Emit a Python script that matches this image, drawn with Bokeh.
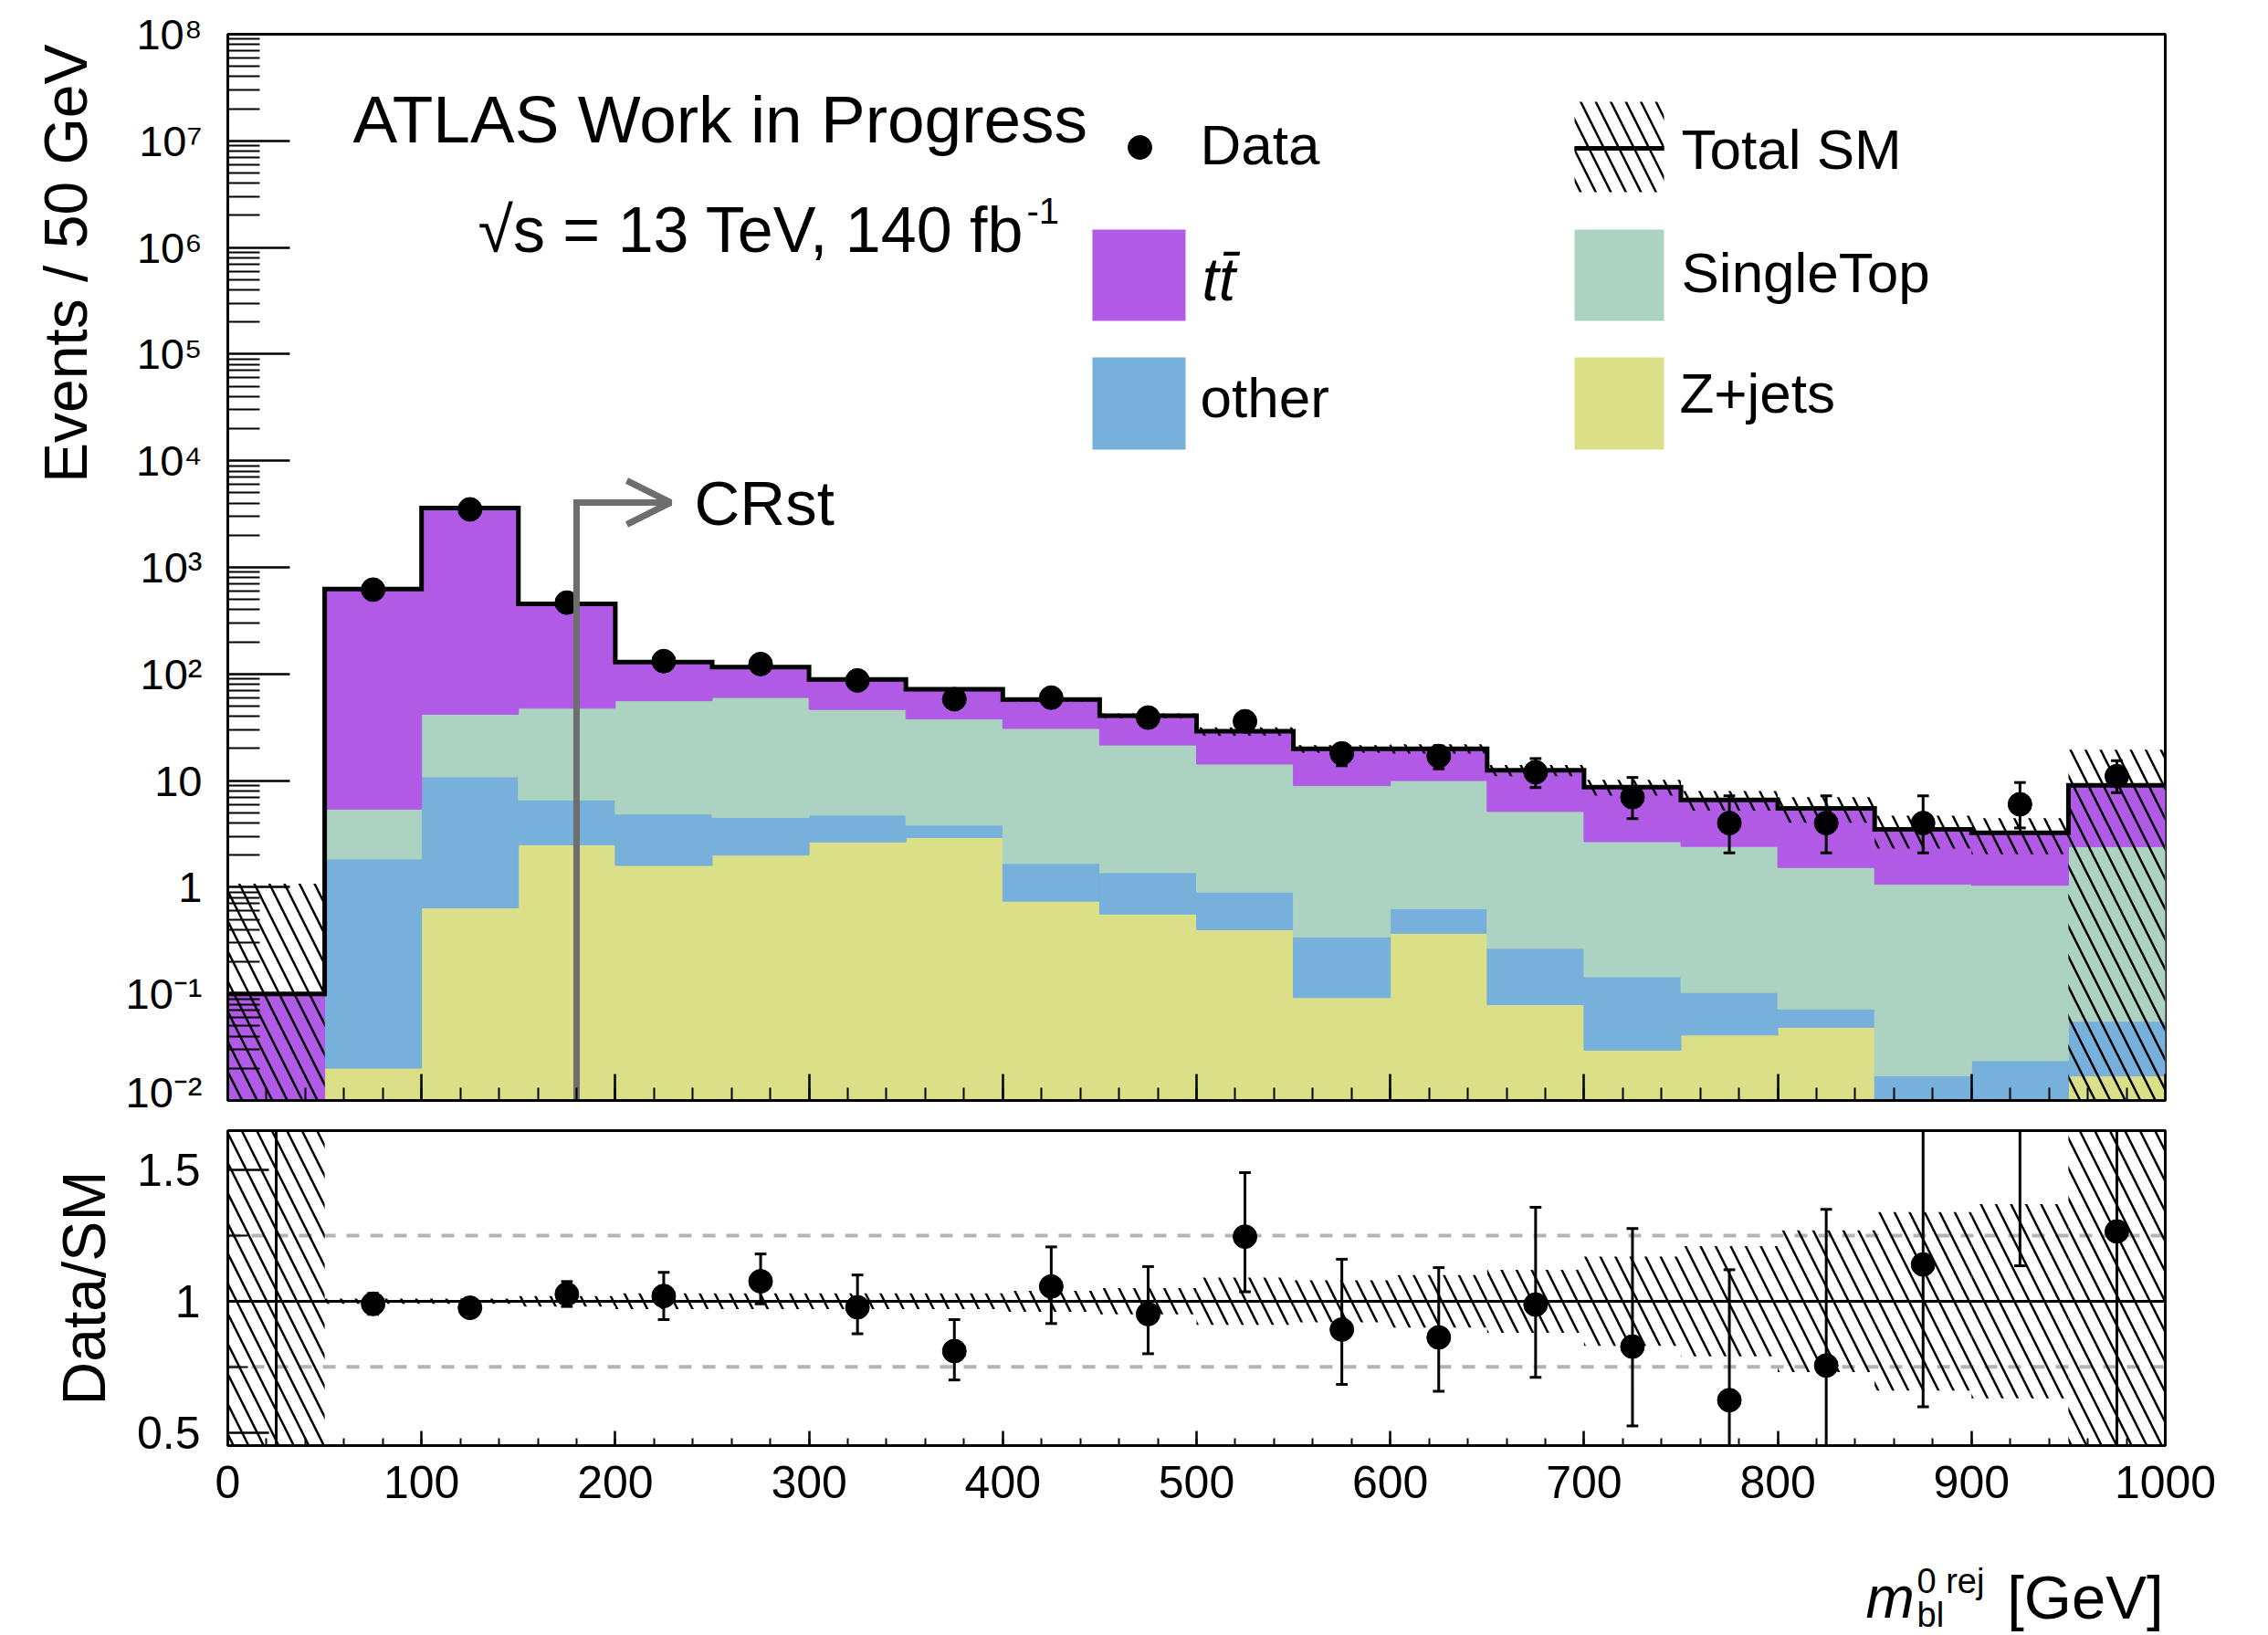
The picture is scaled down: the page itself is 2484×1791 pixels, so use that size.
import numpy as np
from bokeh.plotting import figure
from bokeh.layouts import column
from bokeh.models import (FixedTicker, Label, BoxAnnotation, Span, Arrow, OpenHead,
                          CustomJSTickFormatter, Title, Range1d)
from bokeh.embed import file_html
from bokeh.resources import INLINE

# ------------------------------------------------------------------ data
bin_edges = list(range(0, 1001, 50))

zjets      = [0, 0.020, 0.64, 2.5, 1.6, 2.0, 2.66, 2.93, 0.74, 0.56,
              0.40, 0.092, 0.37, 0.079, 0.0296, 0.041, 0.0485, 0, 0, 0.0169]
other      = [0, 1.82, 10.2, 4.1, 3.26, 2.52, 2.09, 0.90, 0.93, 0.81,
              0.50, 0.25, 0.26, 0.188, 0.115, 0.062, 0.0235, 0.0169, 0.0235, 0.0383]
single_top = [0, 3.56, 31.1, 41.2, 51.3, 55.7, 41.75, 34.1, 29.2, 20.2,
              13.4, 8.63, 9.37, 4.87, 2.53, 2.31, 1.46, 1.05, 1.02, 2.35]
ttbar      = [0.10, 620, 3558, 407, 73, 56, 42.5, 34.1, 26.7, 19.0,
              14.7, 10.9, 9.9, 7.36, 6.03, 4.19, 3.97, 2.43, 2.20, 6.64]

data        = [np.nan, 618, 3500, 467, 132, 124, 87, 58, 60, 39,
               36, 18, 17, 12, 7, 4, 4, 4, 6, 11]
data_err_dn = [0, 25, 59, 22, 11.5, 11, 9.3, 7.6, 7.7, 6.2,
               6.0, 4.2, 4.1, 3.4, 2.6, 1.9, 1.9, 1.9, 2.4, 3.3]
data_err_up = [0, 25, 59, 22, 11.5, 11, 9.3, 7.6, 7.7, 6.2,
               6.0, 4.2, 4.1, 4.1, 3.7, 3.2, 3.2, 3.2, 3.6, 4.4]

sm_rel_unc = [9.8, 0.01, 0.01, 0.02, 0.03, 0.03, 0.03, 0.03, 0.04, 0.05,
              0.09, 0.08, 0.10, 0.12, 0.17, 0.21, 0.27, 0.34, 0.37, 1.15]

ratio    = [np.nan, 0.99, 0.975, 1.027, 1.02, 1.076, 0.977, 0.81, 1.056, 0.951,
            1.246, 0.892, 0.862, 0.987, 0.827, 0.623, 0.755, 1.14, 1.875, 1.266]
ratio_lo = [0.0, 0.95, 0.958, 0.98, 0.93, 0.99, 0.876, 0.70, 0.915, 0.80,
            1.036, 0.683, 0.657, 0.71, 0.525, 0.30, 0.35, 0.598, 1.135, 0.0]
ratio_hi = [10.0, 1.03, 0.992, 1.075, 1.11, 1.18, 1.10, 0.93, 1.207, 1.132,
            1.49, 1.16, 1.128, 1.358, 1.277, 1.12, 1.35, 2.2, 3.0, 3.0]

log_tick_exponents = [-2, -1, 0, 1, 2, 3, 4, 5, 6, 7, 8]
x_tick_values = list(range(0, 1001, 100))
x_minor_values = list(range(0, 1001, 20))
ratio_tick_values = [0.5, 1.0, 1.5]
ratio_minor_values = [0.75, 1.25]
ratio_ref_lines = [0.75, 1.25]
cr_cut = 180

# ------------------------------------------------------------------ style
COL_TT = "#b05ae6"
COL_ST = "#acd3c1"
COL_OT = "#76b0db"
COL_ZJ = "#dbe088"
GREY = "#6e6e6e"
FONT = "Liberation Sans"

W, HTOT = 2484, 1791
FL, FR = 249, 2371
T1, B1, H1 = 37, 1205, 1222
T2, B2 = 1238, 1583
P2_BOTTOM = 1700
H2 = P2_BOTTOM - H1
H3 = HTOT - P2_BOTTOM
DEC = (B1 - T1) / 10.0


def vx(px):
    return (px - FL) * 1000.0 / (FR - FL)


def vy1(py):
    return 10 ** (8 - (py - T1) / DEC)


def style_fig(p):
    p.xgrid.visible = False
    p.ygrid.visible = False
    p.outline_line_color = "black"
    p.outline_line_width = 3
    p.outline_line_alpha = 1
    p.background_fill_color = "white"
    p.border_fill_color = "white"


def style_axis(ax, major_in, minor_in, label_size, standoff):
    ax.axis_line_width = 3
    ax.axis_line_color = "black"
    ax.major_tick_line_width = 2.5
    ax.minor_tick_line_width = 2
    ax.major_tick_line_color = "black"
    ax.minor_tick_line_color = "black"
    ax.major_tick_in = major_in
    ax.major_tick_out = 0
    ax.minor_tick_in = minor_in
    ax.minor_tick_out = 0
    ax.major_label_text_font = FONT
    ax.major_label_text_font_size = label_size
    ax.major_label_text_color = "black"
    ax.major_label_standoff = standoff


def add_text(p, x, y, text, size, align="left", style="normal", color="black"):
    p.add_layout(Label(x=x, y=y, text=text, text_font=FONT,
                       text_font_size=f"{size}px", text_font_style=style,
                       text_align=align, text_baseline="middle",
                       text_color=color))


edges = np.array(bin_edges, dtype=float)
left, right = edges[:-1], edges[1:]
centers = 0.5 * (left + right)
FLOOR = 1e-4

# ------------------------------------------------------------------ upper panel
p1 = figure(width=W, height=H1, y_axis_type="log", x_range=(0, 1000),
            y_range=(1e-2, 1e8), output_backend="svg", toolbar_location=None,
            min_border_left=FL, min_border_right=W - FR,
            min_border_top=T1, min_border_bottom=H1 - B1)
style_fig(p1)

style_axis(p1.xaxis[0], 29, 14, "10px", 0)
p1.xaxis[0].formatter = CustomJSTickFormatter(code="return ''")
p1.xaxis[0].ticker = FixedTicker(ticks=x_tick_values, minor_ticks=x_minor_values)

style_axis(p1.yaxis[0], 68, 35, "47px", 28)
p1.yaxis[0].ticker = FixedTicker(
    ticks=[10.0 ** k for k in log_tick_exponents],
    minor_ticks=[m * 10.0 ** k for k in log_tick_exponents[:-1] for m in range(2, 10)])
p1.yaxis[0].formatter = CustomJSTickFormatter(code="""
    const e = Math.round(Math.log10(tick));
    if (e == 0) return "1";
    if (e == 1) return "10";
    const sup = {"0":"\u2070","1":"\u00b9","2":"\u00b2","3":"\u00b3","4":"\u2074",
                 "5":"\u2075","6":"\u2076","7":"\u2077","8":"\u2078","9":"\u2079","-":"\u207b"};
    return "10" + String(e).split("").map(c => sup[c]).join("");
""")
p1.add_layout(Title(text="Events / 50 GeV", align="right", text_font=FONT,
                    text_font_size="66px", text_font_style="normal",
                    text_color="black", standoff=52, offset=11), "left")

base = np.full(len(centers), FLOOR)
for vals, col in ((zjets, COL_ZJ), (other, COL_OT), (single_top, COL_ST), (ttbar, COL_TT)):
    top = base + np.array(vals, dtype=float)
    p1.quad(left=left, right=right, bottom=base, top=top,
            fill_color=col, line_color=col, line_width=1)
    base = top
total = base

rel = np.array(sm_rel_unc)
p1.quad(left=left, right=right, bottom=np.maximum(total * (1 - rel), FLOOR),
        top=total * (1 + rel), fill_color=None, line_color=None,
        hatch_pattern="\\", hatch_color="black", hatch_weight=2.5, hatch_scale=33)

step_x = np.repeat(edges, 2)[1:-1]
step_y = np.repeat(total, 2)
p1.line(step_x, step_y, line_color="black", line_width=5, line_join="miter")

d = np.array(data, dtype=float)
d_lo = d - np.array(data_err_dn)
d_hi = d + np.array(data_err_up)
cap = 3.0
p1.segment(x0=centers, y0=d_lo, x1=centers, y1=d_hi, line_color="black", line_width=3)
p1.segment(x0=centers - cap, y0=d_hi, x1=centers + cap, y1=d_hi, line_color="black", line_width=3)
p1.segment(x0=centers - cap, y0=d_lo, x1=centers + cap, y1=d_lo, line_color="black", line_width=3)
p1.scatter(centers, d, size=26, color="black")

# CRst arrow
arrow_y = vy1(550)
p1.line([cr_cut, cr_cut, vx(715)], [FLOOR, arrow_y, arrow_y],
        line_color=GREY, line_width=7, line_join="miter")
p1.add_layout(Arrow(end=OpenHead(size=48, line_color=GREY, line_width=7),
                    x_start=vx(700), y_start=arrow_y, x_end=vx(734), y_end=arrow_y,
                    line_color=GREY, line_width=7))
add_text(p1, vx(760), vy1(551), "CRst", 69)

# ATLAS labels
add_text(p1, vx(386), vy1(130), "ATLAS Work in Progress", 73)
add_text(p1, vx(523), vy1(251), "\u221as = 13 TeV, 140 fb", 70)
add_text(p1, vx(1124), vy1(230), "-1", 40)

# legend
def legend_box(l, r, t, b, color):
    p1.add_layout(BoxAnnotation(left=vx(l), right=vx(r), top=vy1(t), bottom=vy1(b),
                                fill_color=color, fill_alpha=1, line_color=None))

p1.scatter([vx(1248)], [vy1(161)], size=26, color="black")
add_text(p1, vx(1314), vy1(158), "Data", 62)

p1.add_layout(BoxAnnotation(left=vx(1724), right=vx(1822), top=vy1(111), bottom=vy1(210),
                            fill_color=None, fill_alpha=0, line_color=None,
                            hatch_pattern="\\", hatch_color="black", hatch_weight=2.5,
                            hatch_scale=33))
p1.line([vx(1724), vx(1822)], [vy1(162), vy1(162)], line_color="black", line_width=5)
add_text(p1, vx(1841), vy1(163), "Total SM", 62)

legend_box(1196, 1298, 251, 351, COL_TT)
add_text(p1, vx(1316), vy1(305), "tt\u0304", 66, style="italic")
legend_box(1724, 1822, 251, 351, COL_ST)
add_text(p1, vx(1841), vy1(298), "SingleTop", 62)
legend_box(1196, 1298, 391, 492, COL_OT)
add_text(p1, vx(1314), vy1(435), "other", 62)
legend_box(1724, 1822, 391, 492, COL_ZJ)
add_text(p1, vx(1839), vy1(430), "Z+jets", 62)

# ------------------------------------------------------------------ ratio panel
p2 = figure(width=W, height=H2, x_range=(0, 1000), y_range=(0.45, 1.65),
            output_backend="svg", toolbar_location=None,
            min_border_left=FL, min_border_right=W - FR,
            min_border_top=T2 - H1, min_border_bottom=P2_BOTTOM - B2)
style_fig(p2)
style_axis(p2.xaxis[0], 16, 8, "50px", 22)
p2.xaxis[0].ticker = FixedTicker(ticks=x_tick_values, minor_ticks=x_minor_values)
style_axis(p2.yaxis[0], 45, 22, "50px", 30)
p2.yaxis[0].ticker = FixedTicker(ticks=ratio_tick_values, minor_ticks=ratio_minor_values)
p2.yaxis[0].formatter = CustomJSTickFormatter(
    code="return Math.abs(tick - 1) < 1e-9 ? '1' : tick.toFixed(1)")
p2.yaxis[0].axis_label = "Data/SM"
p2.yaxis[0].axis_label_text_font = FONT
p2.yaxis[0].axis_label_text_font_size = "66px"
p2.yaxis[0].axis_label_text_font_style = "normal"
p2.yaxis[0].axis_label_text_color = "black"
p2.yaxis[0].axis_label_standoff = 18

for v in ratio_ref_lines:
    p2.add_layout(Span(location=v, dimension="width", line_color="#b4b4b4",
                       line_width=4, line_dash="14 12", level="underlay"))
p2.add_layout(Span(location=1.0, dimension="width", line_color="black",
                   line_width=3, level="underlay"))

p2.quad(left=left, right=right, bottom=1 - rel, top=1 + rel, fill_color=None,
        line_color=None, hatch_pattern="\\", hatch_color="black", hatch_weight=2.5,
        hatch_scale=33)

r = np.array(ratio, dtype=float)
r_lo = np.array(ratio_lo)
r_hi = np.array(ratio_hi)
p2.segment(x0=centers, y0=r_lo, x1=centers, y1=r_hi, line_color="black", line_width=3)
p2.segment(x0=centers - cap, y0=r_hi, x1=centers + cap, y1=r_hi, line_color="black", line_width=3)
p2.segment(x0=centers - cap, y0=r_lo, x1=centers + cap, y1=r_lo, line_color="black", line_width=3)
p2.scatter(centers, r, size=26, color="black")

# ------------------------------------------------------------------ x title strip
p3 = figure(width=W, height=H3, x_range=(0, 1000), y_range=Range1d(HTOT, P2_BOTTOM),
            output_backend="svg", toolbar_location=None,
            min_border_left=FL, min_border_right=W - FR,
            min_border_top=0, min_border_bottom=0,
            x_axis_location=None, y_axis_location=None)
p3.xgrid.visible = False
p3.ygrid.visible = False
p3.outline_line_color = None
p3.background_fill_color = "white"
p3.border_fill_color = "white"
add_text(p3, vx(2043), 1749, "m", 64, style="italic")
add_text(p3, vx(2099), 1731, "0 rej", 38)
add_text(p3, vx(2099), 1768, "bl", 38)
add_text(p3, vx(2369), 1749, "[GeV]", 67, align="right")

layout = column(p1, p2, p3, spacing=0)
open("out.html", "w").write(file_html(layout, INLINE))
